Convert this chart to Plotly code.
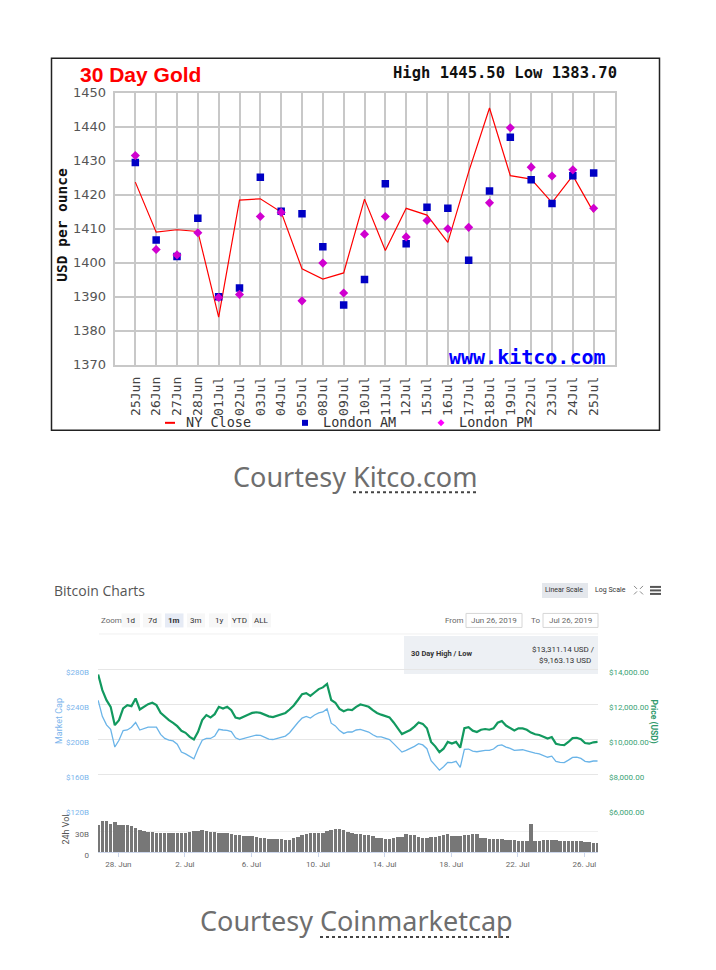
import plotly.graph_objects as go
import pandas as pd

W, H = 716, 970


def px(x):
    return x / W


def py(y):
    # rows measured on the reference; the capture squeezes the page a little vertically
    return 1 - ((y - 7.4) / 0.984) / H


# ---------------- 30 day gold (kitco) ----------------
gold_days = ["25Jun", "26Jun", "27Jun", "28Jun", "01Jul", "02Jul", "03Jul", "04Jul",
             "05Jul", "08Jul", "09Jul", "10Jul", "11Jul", "12Jul", "15Jul", "16Jul",
             "17Jul", "18Jul", "19Jul", "22Jul", "23Jul", "24Jul", "25Jul"]
ny_close = [1423.7, 1409.0, 1409.7, 1409.2, 1384.0, 1418.4, 1418.8, 1414.9, 1398.2,
            1395.2, 1397.0, 1418.7, 1403.6, 1416.0, 1414.0, 1406.0, 1426.7, 1445.5,
            1425.6, 1424.6, 1417.7, 1425.6, 1414.8]
london_am = [1429.5, 1406.7, 1401.8, 1413.1, 1390.0, 1392.6, 1425.1, 1415.1, 1414.4,
             1404.7, 1387.6, 1395.1, 1423.2, 1405.6, 1416.3, 1416.0, 1400.7, 1421.1,
             1436.9, 1424.4, 1417.4, 1425.6, 1426.4]
london_pm = [1431.5, 1403.9, 1402.3, 1408.8, 1389.8, 1390.7, 1413.6, 1414.8, 1388.8,
             1399.9, 1391.1, 1408.4, 1413.6, 1407.6, 1412.4, 1410.0, 1410.4, 1417.6,
             1439.7, 1428.1, 1425.5, 1427.3, 1416.0]

# ---------------- bitcoin (coinmarketcap), 6 hour steps ----------------
btc_times = pd.date_range("2019-06-26 19:00", periods=121, freq="6h")
btc_price = [13706, 12808, 12235, 11853, 10802, 11089, 11757, 11948, 11891, 12330,
             11700, 11853, 12006, 12082, 11948, 11509, 11280, 11089, 10936, 10745,
             10478, 10363, 10134, 9981, 10420, 11089, 11375, 11241, 11432, 11853,
             11757, 11853, 11662, 11241, 11184, 11307, 11404, 11502, 11540, 11502,
             11385, 11307, 11268, 11346, 11463, 11502, 11697, 11931, 12243, 12574,
             12633, 12477, 12672, 12867, 12964, 13159, 12243, 12087, 11736, 11599,
             11697, 11658, 11853, 11989, 11931, 11853, 11658, 11502, 11404, 11307,
             11248, 10956, 10624, 10293, 10410, 10527, 10722, 10956, 10878, 10624,
             9844, 9590, 9259, 9454, 9844, 9747, 9844, 9512, 10624, 10683,
             10488, 10410, 10540, 10580, 10540, 10620, 10940, 11040, 10780, 10620,
             10500, 10620, 10620, 10540, 10380, 10280, 10240, 10140, 10040, 10120,
             9740, 9680, 9660, 9840, 10060, 10080, 10000, 9780, 9740, 9820,
             9840]
btc_mcap = [244.5, 226.1, 216.4, 211.3, 191.0, 198.8, 209.8, 210.5, 213.7, 219.1,
            210.5, 212.1, 213.7, 213.7, 213.7, 205.5, 200.8, 198.8, 198.0, 194.2,
            185.2, 183.2, 180.1, 177.4, 189.1, 198.8, 200.8, 200.8, 203.5, 211.3,
            210.5, 210.1, 208.6, 201.6, 199.6, 200.8, 202.7, 203.9, 204.7, 204.3,
            202.0, 200.0, 199.6, 200.8, 202.7, 203.5, 207.4, 213.7, 219.1, 224.2,
            226.1, 224.2, 227.7, 230.0, 231.2, 234.7, 218.3, 215.2, 209.8, 206.6,
            208.2, 208.2, 210.5, 211.3, 209.8, 208.2, 205.1, 202.7, 202.7, 200.8,
            199.6, 194.9, 189.5, 185.2, 187.1, 189.1, 191.8, 194.9, 193.4, 189.1,
            175.4, 170.0, 164.5, 168.4, 173.5, 173.1, 174.6, 167.6, 188.3, 188.7,
            186.4, 185.6, 186.4, 187.1, 187.1, 188.7, 192.6, 193.4, 191.0, 189.5,
            187.1, 187.9, 187.9, 186.7, 185.2, 184.0, 183.2, 181.3, 179.3, 180.5,
            174.6, 173.5, 173.1, 176.0, 179.2, 179.5, 178.0, 174.6, 173.9, 175.0,
            175.0]
btc_volume = [39, 43.7, 44.6, 40, 42.8, 38.5, 38, 38, 37.5, 34.5,
              31, 30, 29, 29, 27, 26.7, 26.7, 27, 27.6, 27.6,
              27.2, 27.6, 29, 29.5, 30.5, 31, 30, 29, 28.5, 27.6,
              27.6, 26.5, 25.3, 25, 24.5, 23.5, 23, 22.5, 21, 20.7,
              20, 19, 18.4, 18.4, 18, 17.5, 17, 19.5, 21, 24.5,
              26.2, 27.6, 27, 27.6, 27, 29.5, 31, 32.2, 32.5, 32,
              29, 26.5, 26.2, 25.5, 24, 24, 23, 20.5, 19.8, 19,
              18.9, 19.5, 21.6, 22, 25.3, 25, 24, 21, 20.7, 20.7,
              21.6, 22, 22.5, 25, 26.2, 23.5, 23, 23, 24.4, 24.4,
              25.5, 26.2, 20, 19.8, 19, 18.5, 18.4, 18.4, 17.5, 17,
              17, 16, 15.5, 15.2, 40, 15.2, 15.5, 16.5, 17, 17,
              16.5, 16.1, 16, 16, 15.5, 15.5, 15.2, 15, 14, 13.5,
              13.3]

date_ticks = ["2019-06-28", "2019-07-02", "2019-07-06", "2019-07-10",
              "2019-07-14", "2019-07-18", "2019-07-22", "2019-07-26"]
date_labels = ["28. Jun", "2. Jul", "6. Jul", "10. Jul", "14. Jul", "18. Jul", "22. Jul", "26. Jul"]
mcap_ticks = [120, 160, 200, 240, 280]
price_ticks = [6000, 8000, 10000, 12000, 14000]
vol_ticks = [0, 30]

fig = go.Figure()

fig.add_trace(go.Scatter(name="NY Close", x=gold_days, y=ny_close, mode="lines",
                         line=dict(color="#ff0000", width=1.2), xaxis="x", yaxis="y"))
fig.add_trace(go.Scatter(name="London AM", x=gold_days, y=london_am, mode="markers",
                         marker=dict(symbol="square", size=7.5, color="#0000c4"), xaxis="x", yaxis="y"))
fig.add_trace(go.Scatter(name="London PM", x=gold_days, y=london_pm, mode="markers",
                         marker=dict(symbol="diamond", size=7, color="#d000d0"), xaxis="x", yaxis="y"))

fig.add_trace(go.Bar(x=btc_times, y=btc_volume, width=18000000,
                     marker=dict(color="#777777", line=dict(width=0)), xaxis="x2", yaxis="y5"))
fig.add_trace(go.Scatter(x=btc_times, y=btc_mcap, mode="lines",
                         line=dict(color="#6ab4e8", width=1.3), xaxis="x2", yaxis="y3"))
fig.add_trace(go.Scatter(x=btc_times, y=btc_price, mode="lines",
                         line=dict(color="#12995f", width=2.2), xaxis="x2", yaxis="y4"))

grid = "#c8c8c8"
fig.update_layout(
    width=W, height=H, margin=dict(l=0, r=0, t=0, b=0),
    paper_bgcolor="white", plot_bgcolor="white", showlegend=False,
    xaxis=dict(domain=[px(114.5), px(614.5)], anchor="y", type="category",
               categoryorder="array", categoryarray=gold_days, range=[-1, 23],
               tickangle=-90, tickfont=dict(family="DejaVu Sans Mono", size=13, color="#444"),
               showgrid=True, gridcolor=grid, gridwidth=1.5, showline=True, mirror=True,
               linecolor=grid, linewidth=1.5, ticks="", ticklabelstandoff=5, zeroline=False),
    yaxis=dict(domain=[py(365), py(93)], anchor="x", range=[1370, 1450], dtick=10,
               tickfont=dict(family="DejaVu Sans", size=13, color="#555"),
               showgrid=True, gridcolor=grid, gridwidth=1.5, showline=True, mirror=True,
               linecolor=grid, linewidth=1.5, ticks="", ticklabelstandoff=4, zeroline=False),
    yaxis2=dict(overlaying="y", side="right", anchor="x", range=[1370, 1450], dtick=10,
                tickfont=dict(family="DejaVu Sans", size=13, color="#555"),
                showgrid=False, ticks="", ticklabelstandoff=4, zeroline=False),
    xaxis2=dict(domain=[px(98), px(598)], anchor="y5", type="date",
                range=["2019-06-26 18:45", "2019-07-26 19:40"],
                tickvals=date_ticks, ticktext=date_labels,
                tickfont=dict(family="Roboto", size=8, color="#666"),
                ticks="outside", ticklen=4, tickcolor="#ccd6eb",
                showline=True, linecolor="#ccd6eb", showgrid=False, zeroline=False),
    yaxis3=dict(domain=[py(809), py(647)], anchor="x2", range=[120, 305.6],
                tickvals=mcap_ticks, ticktext=["$%dB" % v for v in mcap_ticks],
                tickfont=dict(family="Roboto", size=8, color="#7cb5ec"),
                showgrid=True, gridcolor="#e6e6e6", ticks="", ticklabelstandoff=8,
                ticklabelshift=3, zeroline=False, showline=False),
    yaxis4=dict(overlaying="y3", side="right", anchor="x2", range=[6000, 15280],
                tickvals=price_ticks, ticktext=["${:,.2f}".format(v) for v in price_ticks],
                tickfont=dict(family="Roboto", size=8, color="#3aa275"),
                showgrid=False, ticks="", ticklabelstandoff=10, ticklabelshift=3,
                zeroline=False, showline=False),
    yaxis5=dict(domain=[py(852), py(809)], anchor="x2", range=[0, 61.4],
                tickvals=vol_ticks, ticktext=["0", "30B"],
                tickfont=dict(family="Roboto", size=8, color="#666"),
                showgrid=True, gridcolor="#f0f0f0", ticks="", ticklabelstandoff=8,
                ticklabelshift=3, zeroline=False, showline=False),
    bargap=0,
)

ann = []


def note(x, y, text, size, color, family="Roboto", xa="left", ya="middle", angle=0):
    ann.append(dict(x=px(x), y=py(y), xref="paper", yref="paper", text=text, showarrow=False,
                    xanchor=xa, yanchor=ya, textangle=angle,
                    font=dict(family=family, size=size, color=color)))


# gold texts
note(78, 74.5, "<b>30 Day Gold</b>", 21, "#ff0000", family="Liberation Sans")
note(619, 73.5, "<b>High 1445.50 Low 1383.70</b>", 15.5, "#111", family="DejaVu Sans Mono", xa="right")
note(62, 225, "<b>USD per ounce</b>", 14.5, "#111", family="DejaVu Sans Mono", xa="center", angle=-90)
note(608, 357.5, "<b>www.kitco.com</b>", 20, "#0000ff", family="DejaVu Sans Mono", xa="right")
note(184, 422.5, "NY Close", 13.5, "#333", family="DejaVu Sans Mono")
note(320.5, 422.5, "London AM", 13.5, "#333", family="DejaVu Sans Mono")
note(456.5, 422.5, "London PM", 13.5, "#333", family="DejaVu Sans Mono")

# captions
note(355, 477, "Courtesy Kitco.com", 27, "#6e6e6e", family="Noto Sans", xa="center")
note(356, 920, "Courtesy Coinmarketcap", 27, "#6e6e6e", family="Noto Sans", xa="center")

# bitcoin texts
note(52, 590.5, "Bitcoin Charts", 14, "#555", family="Open Sans")
note(564, 590.5, "Linear Scale", 7, "#333", xa="center")
note(610, 590.5, "Log Scale", 7, "#333", xa="center")
note(99, 620.5, "Zoom", 8, "#666")
buttons = [("1d", 121.5, 140), ("7d", 143, 161.5), ("<b>1m</b>", 165, 183.5), ("3m", 187, 205),
           ("1y", 209, 228), ("YTD", 231, 249), ("ALL", 252, 271)]
for label, x0, x1 in buttons:
    note((x0 + x1) / 2, 620.5, label, 8, "#333", xa="center")
note(443, 620.5, "From", 8, "#666")
note(494, 620.5, "Jun 26, 2019", 8, "#666", xa="center")
note(529, 620.5, "To", 8, "#666")
note(570.5, 620.5, "Jul 26, 2019", 8, "#666", xa="center")
note(409, 654, "<b>30 Day High / Low</b>", 7.5, "#333")
note(597, 649.5, "$13,311.14 USD /", 8, "#333", xa="right")
note(593, 660.5, "$9,163.13 USD", 8, "#333", xa="right")
note(59.5, 721.5, "Market Cap", 9, "#7cb5ec", xa="center", angle=-90)
note(654, 721.5, "<b>Price (USD)</b>", 8.5, "#2f9a6c", xa="center", angle=90)
note(66.5, 830, "24h Vol", 9, "#555", xa="center", angle=-90)

shapes = []


def rect(x0, y0, x1, y1, fill=None, line=None, lw=1):
    shapes.append(dict(type="rect", xref="paper", yref="paper", x0=px(x0), x1=px(x1),
                       y0=py(y0), y1=py(y1), fillcolor=fill or "rgba(0,0,0,0)",
                       line=dict(color=line or "rgba(0,0,0,0)", width=lw if line else 0),
                       layer="below"))


def seg(x0, y0, x1, y1, color, lw=1, dash="solid", layer="above"):
    shapes.append(dict(type="line", xref="paper", yref="paper", x0=px(x0), x1=px(x1),
                       y0=py(y0), y1=py(y1), line=dict(color=color, width=lw, dash=dash),
                       layer=layer))


# kitco frame and legend symbols
rect(51.5, 58.5, 659.5, 430.5, line="#222", lw=1.5)
seg(165, 423, 175, 423, "#ff0000", 2)
rect(302, 420, 308, 426, fill="#0000c4")
shapes.append(dict(type="path", xref="paper", yref="paper",
                   path="M %f,%f L %f,%f L %f,%f L %f,%f Z" % (
                       px(441), py(419.5), px(444.5), py(423), px(441), py(426.5), px(437.5), py(423)),
                   fillcolor="#ff00ff", line=dict(width=0)))

# caption underlines
seg(353, 492.5, 478, 492.5, "#444", 2, dash="dot")
seg(320, 937, 512, 937, "#444", 2, dash="dot")

# bitcoin controls
rect(542, 583, 588, 598, fill="#e4e7ec")
for _, x0, x1 in buttons:
    rect(x0, 613.5, x1, 627.5, fill="#e6ebf5" if x0 == 165 else "#f7f7f7")
rect(466, 613.5, 522, 627.5, line="#d6d6d6", lw=1)
rect(543, 613.5, 598, 627.5, line="#d6d6d6", lw=1)
seg(99, 634, 598, 634, "#f0f0f0", 1)
rect(404, 636, 598, 674, fill="#edf0f4")
for yy in (587, 590.5, 594):
    seg(650, yy, 661, yy, "#555", 2)
seg(634, 586, 637, 589, "#888", 1)
seg(643, 586, 640, 589, "#888", 1)
seg(634, 594.5, 637, 591.5, "#888", 1)
seg(643, 594.5, 640, 591.5, "#888", 1)

fig.update_layout(annotations=ann, shapes=shapes)

fig.write_html(
    "out.html",
    config={"displayModeBar": False},
    post_script="document.body.style.margin='0';document.body.style.overflow='hidden';"
                "var d=document.getElementById('{plot_id}');d.style.position='fixed';"
                "d.style.left='0px';d.style.top='0px';",
)
